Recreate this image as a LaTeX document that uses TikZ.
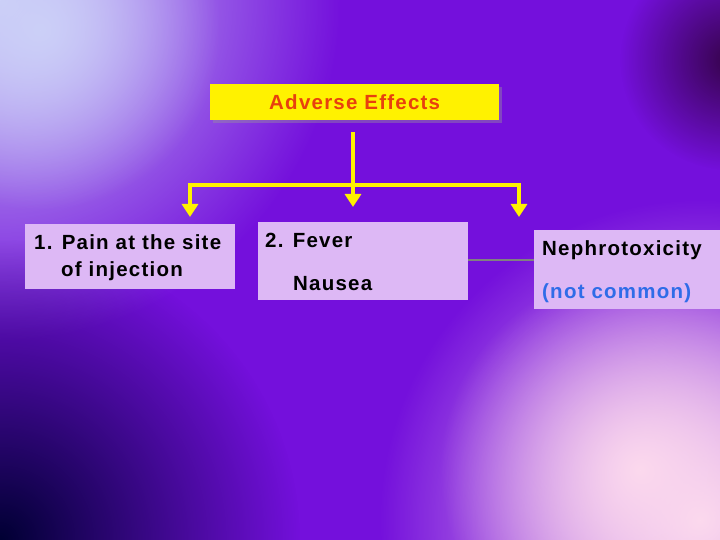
\documentclass[tikz,border=0pt]{standalone}
\usepackage{fontspec}
\setmainfont{Liberation Sans}[LetterSpace=6]
\usetikzlibrary{fadings,arrows.meta}
\tikzfading[name=radfade, inner color=transparent!0, outer color=transparent!100]
\definecolor{bgv}{HTML}{7410DC}
\definecolor{lav}{HTML}{DDB8F5}
\definecolor{ttl}{HTML}{E8400E}
\definecolor{blu}{HTML}{2F6CE8}
\definecolor{tl}{HTML}{CCD0F8}
\begin{document}
\begin{tikzpicture}[x=1pt,y=-1pt,
  box/.style={fill=lav,draw=none,anchor=north west,inner sep=0pt},
  txt/.style={font=\fontsize{20.5}{24}\selectfont\bfseries,anchor=west,inner sep=0pt},
  yarr/.style={draw=yellow,line width=4.5pt,-{Triangle[width=16pt,length=13pt]}},
  yl/.style={draw=yellow,line width=4.5pt}]
\useasboundingbox (0,0) rectangle (720,540);
\fill[bgv] (0,0) rectangle (720,540);
\begin{scope}
\clip (0,0) rectangle (720,540);
\fill[tl,path fading=radfade] (0,0) circle (340);
\fill[tl,path fading=radfade] (40,30) circle (180);
\fill[black!80!blue,path fading=radfade] (0,540) circle (300);
\fill[black!70!violet,path fading=radfade,opacity=0.8] (730,60) circle (110);
\fill[white!85!magenta,path fading=radfade] (700,520) circle (320);
\fill[white!85!magenta,path fading=radfade] (640,470) circle (200);
\end{scope}
\fill[black!40,opacity=0.4] (213,87) rectangle (502,123);
\node[box,fill=yellow,minimum width=289pt,minimum height=36pt] (ae) at (210,84) {};
\node[font=\fontsize{20.5}{24}\selectfont\bfseries,text=ttl] (aet) at (ae.center) {Adverse Effects};
\node[box,minimum width=210pt,minimum height=65pt] (b1) at (25,224) {};
\node[box,minimum width=210pt,minimum height=78pt] (b2) at (258,222) {};
\node[box,minimum width=186pt,minimum height=79pt] (b3) at (534,230) {};
\node[txt] (t1) at (34,242) {1. Pain at the site};
\node[txt] (t1b) at (61,271) {of injection};
\node[txt] (t2) at (265,240) {2. Fever};
\node[txt] (t2b) at (293,284) {Nausea};
\node[txt] (t3) at (542,250) {Nephrotoxicity};
\node[txt,text=blu] (t3b) at (542,293) {(not common)};
\draw[gray,line width=1.5pt] (468,260) -- (534,260);
\coordinate (top) at (353,132);
\coordinate (hm) at (353,185);
\coordinate (hl) at (190,185);
\coordinate (hr) at (519,185);
\draw[yl] (top) -- (hm);
\draw[yl,line cap=rect] (hl) -- (hr);
\draw[yarr] (hm) -- (353,207);
\draw[yarr] (hl) -- (190,217);
\draw[yarr] (hr) -- (519,217);
\end{tikzpicture}
\end{document}
